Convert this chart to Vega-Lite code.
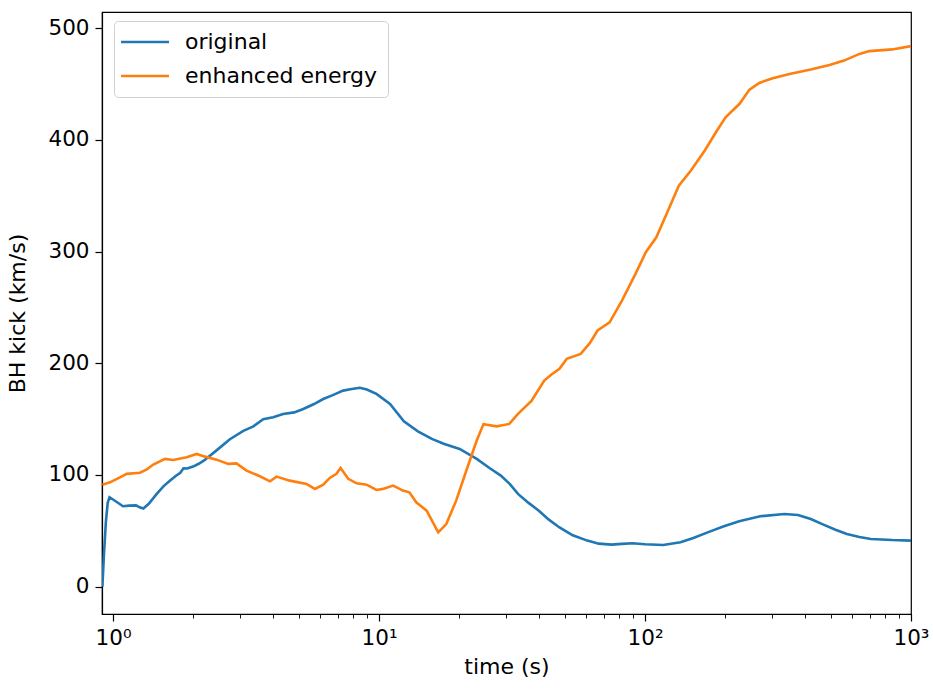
{
  "$schema": "https://vega.github.io/schema/vega-lite/v6.json",
  "width": 809,
  "height": 602,
  "autosize": {"type": "none"},
  "padding": {"left": 102, "top": 12, "right": 22, "bottom": 79},
  "background": "white",
  "config": {
    "font": "DejaVu Sans",
    "view": {"stroke": "black", "strokeWidth": 1.2},
    "axis": {
      "domainColor": "black",
      "domainWidth": 1.2,
      "tickColor": "black",
      "tickWidth": 1.2,
      "labelFont": "DejaVu Sans",
      "labelFontSize": 21.5,
      "labelColor": "black",
      "titleFont": "DejaVu Sans",
      "titleFontSize": 22,
      "titleFontWeight": "normal",
      "titleColor": "black",
      "grid": false
    },
    "legend": {
      "labelFont": "DejaVu Sans",
      "labelFontSize": 22,
      "labelColor": "black",
      "labelLimit": 0
    }
  },
  "data": {
    "values": [
      {"t": 0.912, "kick": 0, "run": "original"},
      {"t": 0.925, "kick": 30, "run": "original"},
      {"t": 0.94, "kick": 58, "run": "original"},
      {"t": 0.955, "kick": 75, "run": "original"},
      {"t": 0.97, "kick": 80, "run": "original"},
      {"t": 1.0, "kick": 78, "run": "original"},
      {"t": 1.03, "kick": 76, "run": "original"},
      {"t": 1.09, "kick": 72, "run": "original"},
      {"t": 1.15, "kick": 72.5, "run": "original"},
      {"t": 1.22, "kick": 72.8, "run": "original"},
      {"t": 1.26, "kick": 71, "run": "original"},
      {"t": 1.3, "kick": 70, "run": "original"},
      {"t": 1.36, "kick": 74, "run": "original"},
      {"t": 1.46, "kick": 83, "run": "original"},
      {"t": 1.55, "kick": 90, "run": "original"},
      {"t": 1.64, "kick": 95, "run": "original"},
      {"t": 1.72, "kick": 99, "run": "original"},
      {"t": 1.79, "kick": 102, "run": "original"},
      {"t": 1.84, "kick": 106, "run": "original"},
      {"t": 1.9, "kick": 105.8, "run": "original"},
      {"t": 2.0, "kick": 107.5, "run": "original"},
      {"t": 2.1, "kick": 110, "run": "original"},
      {"t": 2.2, "kick": 113, "run": "original"},
      {"t": 2.45, "kick": 122, "run": "original"},
      {"t": 2.75, "kick": 132, "run": "original"},
      {"t": 3.09, "kick": 139.5, "run": "original"},
      {"t": 3.37, "kick": 143.5, "run": "original"},
      {"t": 3.67, "kick": 150, "run": "original"},
      {"t": 4.0, "kick": 151.6, "run": "original"},
      {"t": 4.36, "kick": 154.6, "run": "original"},
      {"t": 4.8, "kick": 156, "run": "original"},
      {"t": 5.19, "kick": 159, "run": "original"},
      {"t": 5.7, "kick": 163.5, "run": "original"},
      {"t": 6.17, "kick": 168, "run": "original"},
      {"t": 6.7, "kick": 171.5, "run": "original"},
      {"t": 7.33, "kick": 175.5, "run": "original"},
      {"t": 7.9, "kick": 177, "run": "original"},
      {"t": 8.47, "kick": 178, "run": "original"},
      {"t": 9.0, "kick": 176.5, "run": "original"},
      {"t": 9.78, "kick": 172.6, "run": "original"},
      {"t": 11.0, "kick": 163.6, "run": "original"},
      {"t": 12.4, "kick": 148, "run": "original"},
      {"t": 14.0, "kick": 139, "run": "original"},
      {"t": 15.8, "kick": 132.3, "run": "original"},
      {"t": 17.5, "kick": 128, "run": "original"},
      {"t": 20.1, "kick": 123.3, "run": "original"},
      {"t": 23.3, "kick": 114.4, "run": "original"},
      {"t": 26.1, "kick": 106, "run": "original"},
      {"t": 28.7, "kick": 99.4, "run": "original"},
      {"t": 31.0, "kick": 92, "run": "original"},
      {"t": 33.3, "kick": 83, "run": "original"},
      {"t": 36.5, "kick": 75, "run": "original"},
      {"t": 39.9, "kick": 68, "run": "original"},
      {"t": 43.5, "kick": 60, "run": "original"},
      {"t": 47.7, "kick": 53, "run": "original"},
      {"t": 53.5, "kick": 46, "run": "original"},
      {"t": 60.7, "kick": 41.2, "run": "original"},
      {"t": 67, "kick": 38.5, "run": "original"},
      {"t": 74.8, "kick": 37.6, "run": "original"},
      {"t": 82, "kick": 38.3, "run": "original"},
      {"t": 89.6, "kick": 38.8, "run": "original"},
      {"t": 100, "kick": 38, "run": "original"},
      {"t": 117, "kick": 37.3, "run": "original"},
      {"t": 136, "kick": 39.7, "run": "original"},
      {"t": 152, "kick": 43.5, "run": "original"},
      {"t": 172, "kick": 48.6, "run": "original"},
      {"t": 198, "kick": 54, "run": "original"},
      {"t": 226, "kick": 58.5, "run": "original"},
      {"t": 271, "kick": 63, "run": "original"},
      {"t": 334, "kick": 65, "run": "original"},
      {"t": 376, "kick": 64.2, "run": "original"},
      {"t": 420, "kick": 60.5, "run": "original"},
      {"t": 464, "kick": 56, "run": "original"},
      {"t": 520, "kick": 51, "run": "original"},
      {"t": 574, "kick": 47.2, "run": "original"},
      {"t": 640, "kick": 44.5, "run": "original"},
      {"t": 707, "kick": 42.7, "run": "original"},
      {"t": 850, "kick": 41.7, "run": "original"},
      {"t": 1000, "kick": 41.2, "run": "original"},
      {"t": 0.912, "kick": 91.3, "run": "enhanced energy"},
      {"t": 0.974, "kick": 93.4, "run": "enhanced energy"},
      {"t": 1.062, "kick": 97.9, "run": "enhanced energy"},
      {"t": 1.126, "kick": 101, "run": "enhanced energy"},
      {"t": 1.263, "kick": 102, "run": "enhanced energy"},
      {"t": 1.34, "kick": 105, "run": "enhanced energy"},
      {"t": 1.417, "kick": 109.3, "run": "enhanced energy"},
      {"t": 1.568, "kick": 114.4, "run": "enhanced energy"},
      {"t": 1.684, "kick": 113.4, "run": "enhanced energy"},
      {"t": 1.892, "kick": 115.8, "run": "enhanced energy"},
      {"t": 2.062, "kick": 118.8, "run": "enhanced energy"},
      {"t": 2.217, "kick": 116.4, "run": "enhanced energy"},
      {"t": 2.451, "kick": 113.7, "run": "enhanced energy"},
      {"t": 2.711, "kick": 109.9, "run": "enhanced energy"},
      {"t": 2.91, "kick": 110.4, "run": "enhanced energy"},
      {"t": 3.177, "kick": 103.9, "run": "enhanced energy"},
      {"t": 3.566, "kick": 98.8, "run": "enhanced energy"},
      {"t": 3.891, "kick": 94.3, "run": "enhanced energy"},
      {"t": 4.12, "kick": 98.5, "run": "enhanced energy"},
      {"t": 4.62, "kick": 94.9, "run": "enhanced energy"},
      {"t": 5.34, "kick": 92, "run": "enhanced energy"},
      {"t": 5.74, "kick": 87.5, "run": "enhanced energy"},
      {"t": 6.17, "kick": 91.3, "run": "enhanced energy"},
      {"t": 6.53, "kick": 97.3, "run": "enhanced energy"},
      {"t": 6.92, "kick": 101, "run": "enhanced energy"},
      {"t": 7.17, "kick": 106.3, "run": "enhanced energy"},
      {"t": 7.66, "kick": 96.5, "run": "enhanced energy"},
      {"t": 8.24, "kick": 92.5, "run": "enhanced energy"},
      {"t": 8.98, "kick": 91.3, "run": "enhanced energy"},
      {"t": 9.78, "kick": 86.6, "run": "enhanced energy"},
      {"t": 10.35, "kick": 87.5, "run": "enhanced energy"},
      {"t": 11.3, "kick": 90.5, "run": "enhanced energy"},
      {"t": 12.3, "kick": 86, "run": "enhanced energy"},
      {"t": 13.0, "kick": 84.5, "run": "enhanced energy"},
      {"t": 13.8, "kick": 75.5, "run": "enhanced energy"},
      {"t": 15.1, "kick": 68, "run": "enhanced energy"},
      {"t": 16.7, "kick": 48.6, "run": "enhanced energy"},
      {"t": 17.9, "kick": 56, "run": "enhanced energy"},
      {"t": 19.5, "kick": 77, "run": "enhanced energy"},
      {"t": 21.3, "kick": 104, "run": "enhanced energy"},
      {"t": 23.3, "kick": 130.8, "run": "enhanced energy"},
      {"t": 24.7, "kick": 145.5, "run": "enhanced energy"},
      {"t": 27.7, "kick": 143.5, "run": "enhanced energy"},
      {"t": 30.9, "kick": 145.7, "run": "enhanced energy"},
      {"t": 33.3, "kick": 154.7, "run": "enhanced energy"},
      {"t": 37.5, "kick": 166.6, "run": "enhanced energy"},
      {"t": 41.8, "kick": 184.5, "run": "enhanced energy"},
      {"t": 44.5, "kick": 190, "run": "enhanced energy"},
      {"t": 47.7, "kick": 195, "run": "enhanced energy"},
      {"t": 50.8, "kick": 204, "run": "enhanced energy"},
      {"t": 57.3, "kick": 208.4, "run": "enhanced energy"},
      {"t": 62, "kick": 218, "run": "enhanced energy"},
      {"t": 66.3, "kick": 229.3, "run": "enhanced energy"},
      {"t": 73.6, "kick": 236.7, "run": "enhanced energy"},
      {"t": 81.9, "kick": 256.1, "run": "enhanced energy"},
      {"t": 92.1, "kick": 280, "run": "enhanced energy"},
      {"t": 100.7, "kick": 299.4, "run": "enhanced energy"},
      {"t": 110.3, "kick": 312.8, "run": "enhanced energy"},
      {"t": 120.6, "kick": 333.8, "run": "enhanced energy"},
      {"t": 134, "kick": 359, "run": "enhanced energy"},
      {"t": 148.8, "kick": 372.6, "run": "enhanced energy"},
      {"t": 167.8, "kick": 390.5, "run": "enhanced energy"},
      {"t": 186.5, "kick": 408.4, "run": "enhanced energy"},
      {"t": 200.9, "kick": 420.3, "run": "enhanced energy"},
      {"t": 226.7, "kick": 432.3, "run": "enhanced energy"},
      {"t": 247, "kick": 445, "run": "enhanced energy"},
      {"t": 269, "kick": 451, "run": "enhanced energy"},
      {"t": 300, "kick": 455, "run": "enhanced energy"},
      {"t": 349, "kick": 459, "run": "enhanced energy"},
      {"t": 420, "kick": 463, "run": "enhanced energy"},
      {"t": 494, "kick": 467, "run": "enhanced energy"},
      {"t": 560, "kick": 471, "run": "enhanced energy"},
      {"t": 640, "kick": 477, "run": "enhanced energy"},
      {"t": 698, "kick": 479.5, "run": "enhanced energy"},
      {"t": 850, "kick": 481, "run": "enhanced energy"},
      {"t": 1000, "kick": 484, "run": "enhanced energy"}
    ]
  },
  "mark": {"type": "line", "strokeWidth": 2.6, "clip": true},
  "encoding": {
    "x": {
      "field": "t",
      "type": "quantitative",
      "scale": {"type": "log", "domain": [0.909, 1000], "nice": false},
      "axis": {
        "title": "time (s)",
        "titlePadding": 8,
        "values": [1, 2, 3, 4, 5, 6, 7, 8, 9, 10, 20, 30, 40, 50, 60, 70, 80, 90, 100, 200, 300, 400, 500, 600, 700, 800, 900, 1000],
        "labelExpr": "datum.value == 1 ? '10⁰' : datum.value == 10 ? '10¹' : datum.value == 100 ? '10²' : datum.value == 1000 ? '10³' : ''",
        "labelOverlap": false,
        "labelFlush": false,
        "labelPadding": 6,
        "tickSize": {"condition": {"test": "indexof([1, 10, 100, 1000], datum.value) >= 0", "value": 7}, "value": 4},
        "tickWidth": {"condition": {"test": "indexof([1, 10, 100, 1000], datum.value) >= 0", "value": 1.2}, "value": 0.9}
      }
    },
    "y": {
      "field": "kick",
      "type": "quantitative",
      "scale": {"domain": [-24.5, 514.5], "nice": false, "zero": false},
      "axis": {
        "title": "BH kick (km/s)",
        "values": [0, 100, 200, 300, 400, 500],
        "tickSize": 7,
        "labelPadding": 6,
        "titlePadding": 18
      }
    },
    "color": {
      "field": "run",
      "type": "nominal",
      "sort": ["original", "enhanced energy"],
      "scale": {"domain": ["original", "enhanced energy"], "range": ["#1f77b4", "#ff7f0e"]},
      "legend": {
        "title": null,
        "orient": "none",
        "legendX": 12,
        "legendY": 9,
        "padding": 10,
        "rowPadding": 12,
        "symbolType": "M-2.8,0H6.8",
        "symbolSize": 100,
        "symbolStrokeWidth": 2.6,
        "labelOffset": 39,
        "strokeColor": "#d0d0d0",
        "fillColor": "rgba(255,255,255,0.8)",
        "cornerRadius": 4
      }
    }
  }
}
